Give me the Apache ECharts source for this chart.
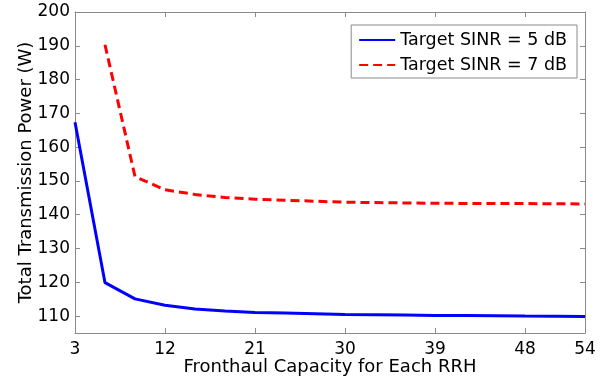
<!DOCTYPE html>
<html>
<head>
<meta charset="utf-8">
<script src="https://cdn.jsdelivr.net/npm/echarts@6/dist/echarts.min.js"></script>
<style>
html, body { margin: 0; padding: 0; background: #fff; }
#chart { width: 611px; height: 379px; }
</style>
</head>
<body>
<div id="chart"></div>
<script>
// fronthaul capacity (x) and total power for the two SINR targets
var capacity = [3, 6, 9, 12, 15, 18, 21, 24, 27, 30, 33, 36, 39, 42, 45, 48, 51, 54];
var sinr5 = [167.4, 119.9, 115.1, 113.2, 112.1, 111.5, 111.1, 110.9, 110.7, 110.5, 110.4, 110.3, 110.2, 110.15, 110.1, 110.0, 109.95, 109.9];
var sinr7 = [null, 190.3, 151.3, 147.4, 146.0, 145.1, 144.6, 144.3, 144.0, 143.7, 143.6, 143.5, 143.4, 143.35, 143.3, 143.3, 143.25, 143.2];
var xTicks = [3, 12, 21, 30, 39, 48, 54];
var yTicks = [110, 120, 130, 140, 150, 160, 170, 180, 190, 200];

var font = 'DejaVu Sans, sans-serif';
var frame = '#8a8a8a';

var myChart = echarts.init(document.getElementById('chart'), null, { renderer: 'canvas' });

var pairs = function (ys) {
	return capacity.map(function (x, i) { return [x, ys[i]]; });
};

var tickStyle = function (vals) {
	return { show: true, inside: true, length: 5, lineStyle: { color: frame }, customValues: vals };
};

var boxAxis = function (extra) {
	return Object.assign({
		type: 'value',
		axisLine: { show: true, lineStyle: { color: frame, width: 1 } },
		splitLine: { show: false },
		axisLabel: { show: false }
	}, extra);
};

var option = {
	animation: false,
	backgroundColor: '#fff',
	grid: { left: 75, top: 12, right: 26, bottom: 46, containLabel: false, outerBoundsMode: 'none' },
	legend: {
		orient: 'vertical',
		right: 34,
		top: 25,
		padding: [5, 10, 3, 7],
		itemGap: 5,
		itemWidth: 36,
		itemHeight: 14,
		borderColor: frame,
		borderWidth: 1,
		borderRadius: 0,
		backgroundColor: '#fff',
		itemStyle: { opacity: 0 },
		textStyle: { fontFamily: font, fontSize: 17.5, lineHeight: 20, color: '#000' },
		data: ['Target SINR = 5 dB', 'Target SINR = 7 dB']
	},
	xAxis: [
		boxAxis({
			min: 3, max: 54,
			name: 'Fronthaul Capacity for Each RRH',
			nameLocation: 'middle',
			nameGap: 25,
			nameMoveOverlap: false,
			nameTextStyle: { fontFamily: font, fontSize: 18, color: '#000' },
			axisTick: tickStyle(xTicks),
			axisLabel: { show: true, fontFamily: font, fontSize: 17, color: '#000', margin: 8, customValues: xTicks }
		}),
		boxAxis({ min: 3, max: 54, position: 'top', axisTick: tickStyle(xTicks) })
	],
	yAxis: [
		boxAxis({
			min: 105, max: 200,
			name: 'Total Transmission Power (W)',
			nameLocation: 'middle',
			nameGap: 40,
			nameMoveOverlap: false,
			nameTextStyle: { fontFamily: font, fontSize: 18, color: '#000' },
			axisTick: tickStyle(yTicks),
			axisLabel: { show: true, fontFamily: font, fontSize: 17, color: '#000', margin: 5, customValues: yTicks }
		}),
		boxAxis({ min: 105, max: 200, position: 'right', axisTick: tickStyle(yTicks) })
	],
	series: [
		{
			name: 'Target SINR = 5 dB',
			type: 'line',
			data: pairs(sinr5),
			symbol: 'none',
			itemStyle: { color: '#0000ff' },
			lineStyle: { color: '#0000ff', width: 3 }
		},
		{
			name: 'Target SINR = 7 dB',
			type: 'line',
			data: pairs(sinr7),
			symbol: 'none',
			itemStyle: { color: '#ff0000' },
			lineStyle: { color: '#ff0000', width: 3, type: [9, 5] }
		}
	]
};

myChart.setOption(option);
</script>
</body>
</html>
